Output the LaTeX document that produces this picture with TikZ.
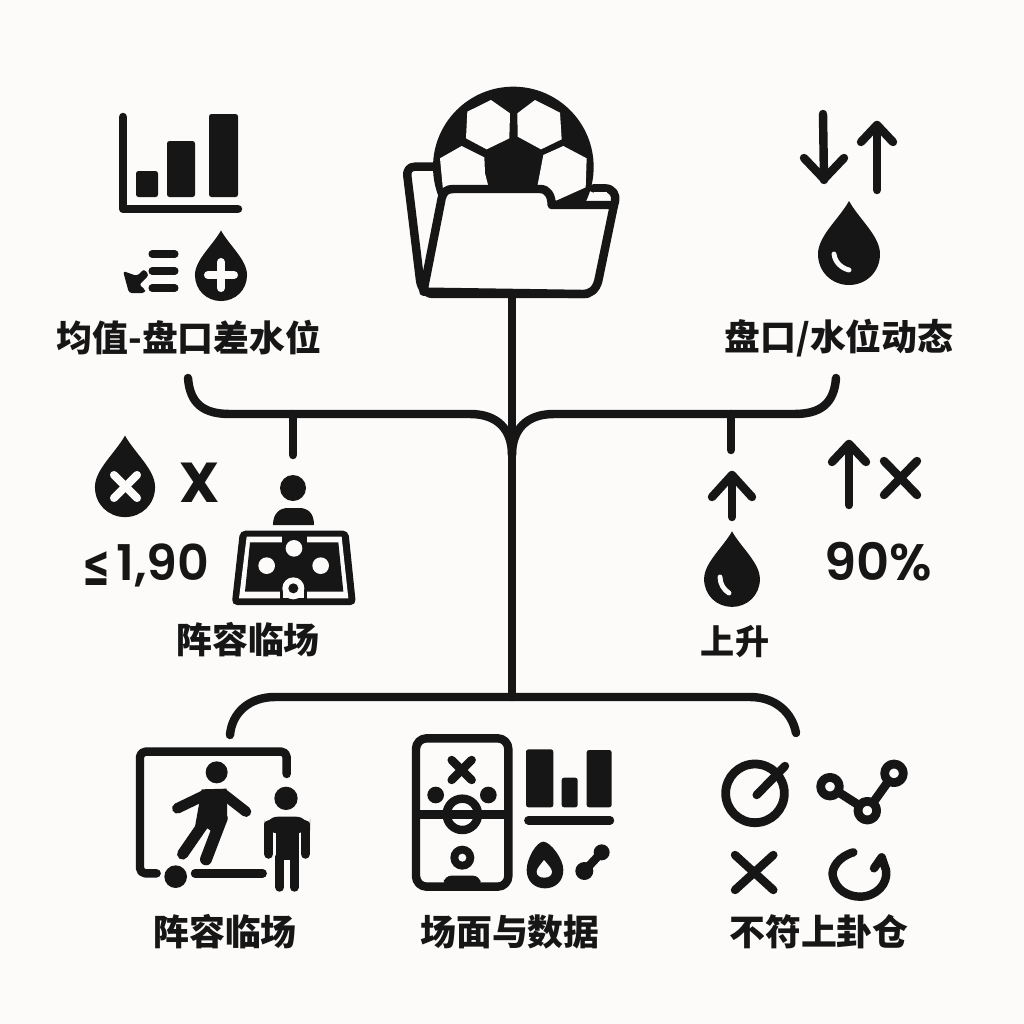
\documentclass[tikz,border=0pt]{standalone}
\usepackage{fontspec}
\setmainfont{Poppins}
\newfontfamily\numfont{Poppins SemiBold}
\newfontfamily\cjk{Noto Sans CJK SC}
\newfontfamily\dejavu{DejaVu Sans}
\definecolor{ink}{RGB}{22,22,22}
\definecolor{paper}{RGB}{252,251,249}
\tikzset{
  iconline/.style={draw=ink, line width=2.4pt, line cap=round, line join=round},
  whiteline/.style={draw=paper, line width=2.3pt, line cap=round, line join=round},
  bar/.style={fill=ink, rounded corners=0.7pt},
  cjklabel/.style={font=\cjk\bfseries\fontsize{10.2}{12}\selectfont, text=ink, inner sep=0pt},
  numlabel/.style={font=\numfont\fontsize{14}{16}\selectfont, text=ink, inner sep=0pt},
  waterdrop/.pic={
    \fill [ink] (0,-53) .. controls (10,-35) and (31,-18) .. (31,0) .. controls (31,18) and (17,31) .. (0,31)
      .. controls (-17,31) and (-31,18) .. (-31,0) .. controls (-31,-18) and (-10,-35) .. (0,-53) -- cycle;
  }
}

\begin{document}
\begin{tikzpicture}[x=0.01cm,y=-0.01cm]
\fill [paper] (0,0) rectangle (1024,1024);

\coordinate (folderbase) at (512,296);
\coordinate (forkmid) at (512,455);
\coordinate (lowerbar) at (512,697);
\coordinate (endleft) at (188,378);
\coordinate (endright) at (836,378);
\coordinate (stubleft) at (293,414);
\coordinate (stubleftend) at (293,455);
\coordinate (stubright) at (731,414);
\coordinate (stubrightend) at (731,450);
\coordinate (endlowleft) at (230,735);
\coordinate (endlowright) at (796,733);

\draw [iconline] (folderbase) -- (lowerbar);
\draw [iconline] (endleft) .. controls (190,405) and (205,414) .. (230,414) -- (470,414) .. controls (498,414) and (512,430) .. (forkmid);
\draw [iconline] (endright) .. controls (834,405) and (819,414) .. (794,414) -- (554,414) .. controls (526,414) and (512,430) .. (forkmid);
\draw [iconline] (stubleft) -- (stubleftend);
\draw [iconline] (stubright) -- (stubrightend);
\draw [iconline] (endlowleft) .. controls (232,712) and (250,697) .. (275,697) -- (750,697) .. controls (775,697) and (792,712) .. (endlowright);

% folder and ball
\begin{scope}[shift={(390,70)},scale=1/3]
\draw [iconline, fill=paper] (130,290) -- (75,290) .. controls (58,290) and (50,302) .. (52,318) -- (90,630) .. controls (93,655) and (108,672) .. (130,672) -- (590,672) -- (675,395) .. controls (680,375) and (668,355) .. (645,355) -- (610,355);
\fill [ink] (370,291) circle [radius=241];
\fill [paper] (303,90) -- (360,130) -- (358,205) -- (290,238) -- (228,205) -- (232,125) -- cycle;
\fill [paper] (435,90) -- (510,128) -- (515,208) -- (453,238) -- (383,200) -- (382,130) -- cycle;
\fill [paper] (215,228) -- (283,262) -- (285,310) -- (298,360) -- (160,370) -- (150,265) -- cycle;
\fill [paper] (520,228) -- (590,265) -- (587,352) -- (498,392) -- (440,360) -- (460,255) -- cycle;
\fill [paper] (612,366) -- (650,366) -- (660,394) -- (598,394) -- cycle;
\draw [iconline, fill=paper] (100,665) -- (155,385) .. controls (160,365) and (170,357) .. (190,357) -- (450,357) .. controls (475,357) and (485,380) .. (485,405) -- (672,405) -- (625,632) .. controls (618,660) and (600,672) .. (580,672) -- cycle;
\end{scope}

% chart top left
\draw [iconline] (123,117) -- (123,209) -- (238,209);
\fill [bar] (136,171) rectangle (158,197);
\fill [bar] (167,141) rectangle (195,197);
\fill [bar] (209,114) rectangle (238,197);

\draw [iconline, line width=2pt] (152,254) -- (175,254);
\draw [iconline, line width=2pt] (152,271) -- (175,271);
\draw [iconline, line width=2pt] (152,288) -- (175,288);
\fill [ink, rounded corners=0.8pt] (123,271) -- (137,276) -- (144,269) -- (149,275) -- (139,285) -- (145,289) -- (145,293) -- (129,293) -- cycle;

\pic [scale=0.84] at (221,275) {waterdrop};
\draw [whiteline] (208,275) -- (234,275);
\draw [whiteline] (221,262) -- (221,288);

\node [cjklabel] (avglabel) at (189,338) {均值-盘口差水位};

% arrows top right
\draw [iconline] (823,114) -- (824,180);
\draw [iconline] (804,158) -- (824,179) -- (844,158);
\draw [iconline] (877,190) -- (877,125);
\draw [iconline] (861,142) -- (877,125) -- (893,142);
\pic at (849,254) {waterdrop};
\draw [whiteline, line width=1.4pt] (834,254) .. controls (835,262) and (841,268) .. (849,270);
\node [cjklabel] (movelabel) at (839,338) {盘口/水位动态};

% middle left
\pic [scale=0.97] at (125,487) {waterdrop};
\draw [whiteline] (114,475) -- (137,498);
\draw [whiteline] (137,475) -- (114,498);
\node [numlabel, font=\bfseries\fontsize{16}{18}\selectfont] (xmark) at (200,483) {X};
\node [inner sep=0pt, text=ink, font=\dejavu\bfseries\fontsize{13}{15}\selectfont] (leqmark) at (96,569) {\scalebox{0.73}[1.27]{≤}};
\node [numlabel] (oddslabel) at (163,565) {1,90};

\fill [ink] (293,488) circle [radius=13];
\fill [ink] (273,525) .. controls (273,513) and (280,508) .. (288,508) -- (299,508) .. controls (308,508) and (314,513) .. (314,525) -- cycle;

\begin{scope}[shift={(70,420)},scale=1/3]
\fill [ink, rounded corners=1.5pt] (510,332) -- (835,332) -- (858,555) -- (485,555) -- cycle;
\fill [paper] (530,350) -- (815,350) -- (835,535) -- (507,535) -- cycle;
\fill [ink] (540,367) -- (805,367) -- (820,515) -- (525,515) -- cycle;
\fill [ink] (635,345) rectangle (710,370);
\fill [paper] (672,385) circle [radius=25];
\fill [paper] (590,437) circle [radius=25];
\fill [paper] (752,437) circle [radius=25];
\fill [ink] (670,505) circle [radius=40];
\fill [ink] (630,505) rectangle (712,540);
\fill [paper] (670,505) circle [radius=33];
\fill [paper] (638,505) rectangle (702,535);
\fill [ink] (670,505) circle [radius=15];
\end{scope}
\node [cjklabel] (lineupmid) at (248,640) {阵容临场};

% middle right
\draw [iconline] (732,517) -- (732,475);
\draw [iconline] (712,497) -- (732,475) -- (752,497);
\pic [scale=0.9] at (732,579) {waterdrop};
\draw [whiteline, line width=1.4pt] (720,577) .. controls (720,584) and (724,590) .. (729,593);
\node [cjklabel, font=\cjk\bfseries\fontsize{9.7}{12}\selectfont] (uplabel) at (735,642) {上升};

\draw [iconline] (849,505) -- (849,444);
\draw [iconline] (832,462) -- (849,444) -- (866,462);
\draw [iconline] (884,461) -- (917,495);
\draw [iconline] (917,461) -- (884,495);
\node [numlabel, font=\numfont\fontsize{14.6}{17}\selectfont] (pctlabel) at (878,562) {90\%};

% bottom left
\begin{scope}[shift={(120,730)},scale=1/3]
\draw [iconline, rounded corners=1.5pt] (500,132) -- (500,65) -- (60,65) -- (60,430) -- (110,430);
\draw [iconline] (225,430) -- (428,430);
\fill [ink] (167,440) circle [radius=34];

\fill [ink] (290,127) circle [radius=33];
\draw [iconline, line width=3pt] (172,235) -- (255,195);
\draw [iconline, line width=3pt] (310,192) -- (378,245);
\fill [ink] (245,178) -- (320,176) -- (322,270) -- (298,320) -- (262,295) -- (225,290) -- cycle;
\draw [iconline, line width=3.2pt] (255,275) -- (188,372);
\draw [iconline, line width=3.4pt] (305,265) -- (258,388);

\fill [ink] (498,205) circle [radius=35];
\draw [iconline, line width=2.7pt] (446,285) -- (446,372);
\draw [iconline, line width=2.7pt] (556,285) -- (556,372);
\fill [ink, rounded corners=4pt] (432,310) -- (432,260) -- (570,260) -- (570,310) -- cycle;
\fill [ink] (467,280) rectangle (536,390);
\draw [iconline, line width=2.5pt] (479,380) -- (479,472);
\draw [iconline, line width=2.5pt] (523,380) -- (523,472);
\end{scope}
\node [cjklabel] (lineuplow) at (225,932) {阵容临场};

% bottom centre
\begin{scope}[shift={(400,725)},scale=1/3]
\draw [iconline, rounded corners=3pt] (48,40) rectangle (325,485);
\draw [iconline, line cap=butt] (48,268) -- (325,268);
\draw [iconline] (187,268) circle [radius=47];
\draw [iconline] (155,105) -- (215,165);
\draw [iconline] (215,105) -- (155,165);
\fill [ink] (107,210) circle [radius=25];
\fill [ink] (265,210) circle [radius=25];
\fill [ink] (187,398) circle [radius=36];
\fill [paper] (187,398) circle [radius=12];
\fill [ink, rounded corners=2pt] (130,485) -- (133,452) -- (240,452) -- (243,485) -- cycle;
\fill [bar] (378,73) rectangle (460,247);
\fill [bar] (485,158) rectangle (533,247);
\fill [bar] (560,75) rectangle (635,247);
\draw [iconline] (385,286) -- (630,286);
\draw [iconline] (553,438) -- (605,382);
\fill [ink] (553,438) circle [radius=27];
\fill [ink] (605,382) circle [radius=24];
\fill [ink] (430,350) .. controls (450,350) and (490,400) .. (490,435) .. controls (490,470) and (465,490) .. (435,490) .. controls (405,490) and (380,470) .. (380,435) .. controls (380,400) and (410,350) .. (430,350) -- cycle;
\fill [paper] (432,405) .. controls (440,415) and (456,430) .. (456,440) .. controls (456,452) and (445,458) .. (433,458) .. controls (420,458) and (410,452) .. (410,440) .. controls (410,430) and (425,415) .. (432,405) -- cycle;
\end{scope}
\node [cjklabel] (fieldlabel) at (510,932) {场面与数据};

% bottom right
\begin{scope}[shift={(700,740)},scale=1/3]
\draw [iconline, line width=2.5pt] (165,160) circle [radius=88];
\draw [iconline] (170,165) -- (255,78);
\draw [iconline] (105,345) -- (220,450);
\draw [iconline] (220,345) -- (105,450);
\draw [iconline, line width=2.5pt] (390,140) -- (502,212) -- (582,100);
\draw [iconline, line width=2.5pt, fill=paper] (390,140) circle [radius=28];
\draw [iconline, line width=2.5pt, fill=paper] (502,212) circle [radius=28];
\draw [iconline, line width=2.5pt, fill=paper] (582,100) circle [radius=28];
\draw [iconline] (460,337) .. controls (415,350) and (395,385) .. (398,405) .. controls (405,450) and (445,470) .. (480,470) .. controls (530,470) and (565,430) .. (558,390) -- (545,352) -- (522,385);
\end{scope}
\node [cjklabel] (misslabel) at (819,932) {不符上卦仓};
\end{tikzpicture}
\end{document}
